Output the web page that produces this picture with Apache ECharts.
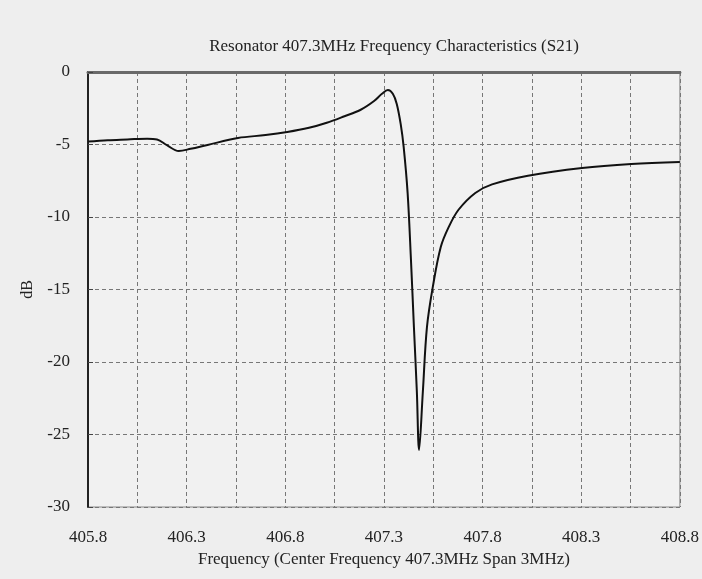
<!DOCTYPE html>
<html>
<head>
<meta charset="utf-8">
<script src="https://cdn.jsdelivr.net/npm/echarts@6/dist/echarts.min.js"></script>
<style>
html, body { margin: 0; padding: 0; background: #eeeeee; }
#chart { width: 702px; height: 579px; }
</style>
</head>
<body>
<div id="chart"></div>
<script>
var freq = [405.8, 405.9, 406.0, 406.1, 406.15, 406.2, 406.26, 406.32, 406.4, 406.56,
    406.7, 406.81, 406.92, 407.01, 407.1, 407.18, 407.25, 407.29, 407.32, 407.345,
    407.365, 407.385, 407.40, 407.42, 407.437, 407.452, 407.467, 407.478, 407.497, 407.518,
    407.548, 407.588, 407.628, 407.678, 407.763, 407.848, 408.03, 408.304, 408.554, 408.8];
var s21 = [-4.8, -4.7, -4.65, -4.6, -4.65, -5.05, -5.45, -5.3, -5.05, -4.55,
    -4.35, -4.14, -3.85, -3.5, -3.05, -2.62, -2.0, -1.5, -1.24, -1.5,
    -2.2, -3.6, -5.17, -8.34, -12.97, -17.6, -22.1, -26.07, -22.1, -17.6,
    -14.8, -12.07, -10.7, -9.5, -8.34, -7.75, -7.15, -6.62, -6.34, -6.2];
var xTickLabels = ['405.8', '406.3', '406.8', '407.3', '407.8', '408.3', '408.8'];

var points = [];
for (var i = 0; i < freq.length; i++) {
    points.push([freq[i], s21[i]]);
}

var serif = 'Liberation Serif';
var chart = echarts.init(document.getElementById('chart'));

var option = {
    backgroundColor: '#eeeeee',
    animation: false,
    title: {
        text: 'Resonator 407.3MHz Frequency Characteristics (S21)',
        left: 389,
        top: 33,
        textAlign: 'center',
        textStyle: { fontFamily: serif, fontSize: 17, fontWeight: 'normal', color: '#222' }
    },
    grid: {
        left: 88,
        right: 15,
        top: 72,
        bottom: 72,
        show: true,
        backgroundColor: '#f1f1f1',
        borderColor: '#888',
        borderWidth: 1
    },
    xAxis: [{
        type: 'value',
        min: 405.8,
        max: 408.8,
        interval: 0.25,
        name: 'Frequency (Center Frequency 407.3MHz Span 3MHz)',
        nameLocation: 'middle',
        nameGap: 44,
        nameTextStyle: { fontFamily: serif, fontSize: 17, color: '#222' },
        axisLine: { lineStyle: { color: '#222', width: 2 } },
        axisTick: { show: false },
        axisLabel: {
            margin: 22,
            fontFamily: serif,
            fontSize: 17,
            color: '#222',
            formatter: function (v) {
                var idx = Math.round((v - 405.8) / 0.25);
                return idx % 2 === 0 ? xTickLabels[idx / 2] : '';
            }
        },
        splitLine: { lineStyle: { color: '#777', type: [4, 3], width: 1 } }
    }, {
        type: 'value',
        position: 'top',
        min: 405.8,
        max: 408.8,
        axisLine: { show: true, lineStyle: { color: '#6a6a6a', width: 3 } },
        axisTick: { show: false },
        axisLabel: { show: false },
        splitLine: { show: false }
    }],
    yAxis: {
        type: 'value',
        min: -30,
        max: 0,
        interval: 5,
        name: 'dB',
        nameLocation: 'middle',
        nameGap: 52,
        nameRotate: 90,
        nameTextStyle: { fontFamily: serif, fontSize: 16, color: '#222' },
        axisLine: { show: true, lineStyle: { color: '#222', width: 2 } },
        axisTick: { show: true, inside: true, length: 5, lineStyle: { color: '#444' } },
        axisLabel: { margin: 18, fontFamily: serif, fontSize: 17, color: '#222' },
        splitLine: { lineStyle: { color: '#777', type: [4, 3], width: 1 } }
    },
    series: [{
        type: 'line',
        data: points,
        smooth: 0.35,
        symbol: 'none',
        lineStyle: { color: '#111', width: 2 }
    }]
};
chart.setOption(option);
</script>
</body>
</html>
